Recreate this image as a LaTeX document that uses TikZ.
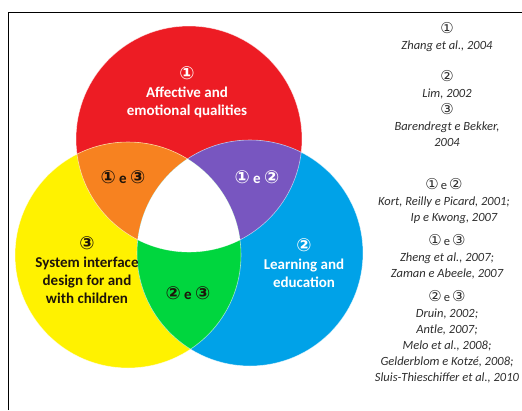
\documentclass[tikz,border=0pt]{standalone}
\usepackage{fontspec}
\setmainfont{Carlito}
\newfontfamily\circfont[Scale=1.2]{DejaVu Sans}
\usetikzlibrary{positioning}

\definecolor{vred}{RGB}{237,28,36}
\definecolor{vyellow}{RGB}{255,242,0}
\definecolor{vblue}{RGB}{0,162,232}
\definecolor{vorange}{RGB}{247,130,32}
\definecolor{vpurple}{RGB}{120,86,192}
\definecolor{vgreen}{RGB}{0,214,62}
\definecolor{reftext}{RGB}{45,45,45}
\definecolor{darklbl}{RGB}{30,20,10}

% circled set numbers
\newcommand{\cnum}[1]{{\circfont\ifcase#1\or ①\or ②\or ③\fi}}

\tikzset{
  setlabel/.style={align=center, inner sep=0pt,
    font=\fontsize{15}{18}\selectfont\bfseries},
  reflist/.style={align=center, inner sep=0pt, text=reftext,
    font=\fontsize{12.5}{16}\selectfont\itshape},
  border/.style={white, line width=0.6pt, opacity=0.6}
}

\begin{document}
\begin{tikzpicture}[x=1pt,y=-1pt]
\useasboundingbox (0,0) rectangle (522,410);

% frame
\draw[line width=1pt] (8,410) -- (8,12) -- (522,12);

% centres of the three sets
\coordinate (cred) at (189,139);
\coordinate (cyellow) at (128,255);
\coordinate (cblue) at (250,253);

\fill[vred] (cred) circle (113pt);
\fill[vyellow] (cyellow) circle (113pt);
\fill[vblue] (cblue) circle (113pt);

% pairwise overlaps
\begin{scope}
\clip (cred) circle (113pt);
\fill[vorange] (cyellow) circle (113pt);
\fill[vpurple] (cblue) circle (113pt);
\end{scope}
\begin{scope}
\clip (cyellow) circle (113pt);
\fill[vgreen] (cblue) circle (113pt);
\clip (cred) circle (113pt);
\fill[white] (cblue) circle (113pt);
\end{scope}

\draw[border] (cred) circle (113pt) (cyellow) circle (113pt) (cblue) circle (113pt);

% set labels
\node[setlabel, white] (lred) at (187,92) {\cnum1\\Affective and\\emotional qualities};
\node[setlabel, darklbl] (lyellow) at (87,270) {\cnum3\\System interface\\design for and\\with children};
\node[setlabel, white] (lblue) at (304,263) {\cnum2\\Learning and\\education};
\node[setlabel, darklbl] (lorange) at (123,177) {\cnum1 e \cnum3};
\node[setlabel, white] (lpurple) at (257,177) {\cnum1 e \cnum2};
\node[setlabel, darklbl] (lgreen) at (188,293) {\cnum2 e \cnum3};

% references
\node[reflist] (ref1) at (447,37) {\cnum1\\Zhang et al., 2004};
\node[reflist] (ref2) at (447,85) {\cnum2\\Lim, 2002};
\node[reflist] (ref3) at (447,125) {\cnum3\\Barendregt e Bekker,\\2004};
\node[reflist] (ref12) at (444,201) {\cnum1{\upshape\,e\,}\cnum2\\Kort, Reilly e Picard, 2001;\\\hspace*{1.6em}Ip e Kwong, 2007};
\node[reflist] (ref13) at (447,257) {\cnum1{\upshape\,e\,}\cnum3\\Zheng et al., 2007;\\Zaman e Abeele, 2007};
\node[reflist] (ref23) at (447,337) {\cnum2{\upshape\,e\,}\cnum3\\Druin, 2002;\\Antle, 2007;\\Melo et al., 2008;\\Gelderblom e Kotzé, 2008;\\Sluis-Thieschiffer et al., 2010};
\end{tikzpicture}
\end{document}
